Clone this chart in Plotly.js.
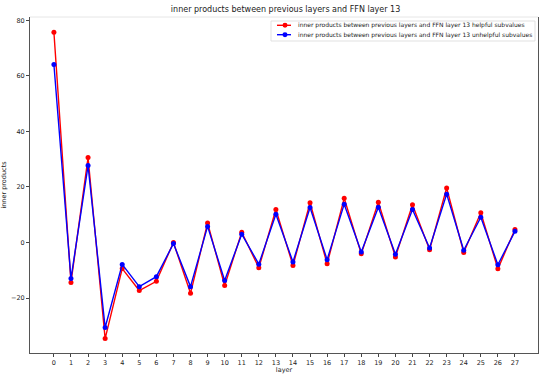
<!DOCTYPE html>
<html>
<head>
<meta charset="utf-8">
<script src="https://cdn.plot.ly/plotly-3.0.1.min.js"></script>
<style>
  html, body { margin: 0; padding: 0; background: #fff; }
  #chart { width: 546px; height: 374px; }
</style>
</head>
<body>
<div id="chart"></div>
<script>
// layer index 0..27
var layers = [0, 1, 2, 3, 4, 5, 6, 7, 8, 9, 10, 11, 12, 13, 14, 15, 16, 17, 18, 19, 20, 21, 22, 23, 24, 25, 26, 27];

var helpful = [75.7, -14.4, 30.6, -34.6, -9.4, -17.3, -14.0, 0.0, -18.3, 7.0,
               -15.5, 3.7, -9.1, 11.9, -8.3, 14.3, -7.7, 15.9, -4.1, 14.5,
               -5.2, 13.6, -2.6, 19.6, -3.6, 10.7, -9.5, 4.7];

var unhelpful = [64.1, -13.0, 27.7, -30.6, -7.9, -15.9, -12.3, -0.4, -15.9, 5.8,
                 -13.7, 3.0, -7.8, 10.2, -7.0, 12.6, -6.2, 13.8, -3.4, 12.7,
                 -4.2, 11.9, -2.0, 17.4, -2.8, 9.1, -8.0, 4.0];

var yTicks = [-20, 0, 20, 40, 60, 80];

var seriesNames = [
    'inner products between previous layers and FFN layer 13 helpful subvalues',
    'inner products between previous layers and FFN layer 13 unhelpful subvalues'
];
var seriesColors = ['#ff0000', '#0000ff'];

var traces = [
    {
        x: layers,
        y: helpful,
        mode: 'lines+markers',
        name: seriesNames[0],
        line: { color: seriesColors[0], width: 1.4 },
        marker: { color: seriesColors[0], size: 5 }
    },
    {
        x: layers,
        y: unhelpful,
        mode: 'lines+markers',
        name: seriesNames[1],
        line: { color: seriesColors[1], width: 1.4 },
        marker: { color: seriesColors[1], size: 5 }
    }
];

// compact matplotlib-like legend, drawn in paper coords
var shapes = [
    {   // faint top spine
        type: 'line', xref: 'paper', yref: 'paper',
        x0: 0, x1: 1, y0: 1, y1: 1,
        line: { color: '#e6e6e6', width: 1 }
    },
    {   // legend box
        type: 'rect', xref: 'paper', yref: 'paper',
        x0: 0.4744, x1: 0.9941, y0: 0.9286, y1: 0.9881,
        fillcolor: 'rgba(255,255,255,0.85)',
        line: { color: '#d9d9d9', width: 0.8 }
    }
];
var annotations = [];
var rowY = [0.9753, 0.9473];
seriesNames.forEach(function(name, i) {
    shapes.push({
        type: 'line', xref: 'paper', yref: 'paper',
        x0: 0.4862, x1: 0.5138, y0: rowY[i], y1: rowY[i],
        line: { color: seriesColors[i], width: 1.4 }
    });
    shapes.push({
        type: 'circle', xref: 'paper', yref: 'paper',
        x0: 0.5020 - 0.0049, x1: 0.5020 + 0.0049,
        y0: rowY[i] - 0.0074, y1: rowY[i] + 0.0074,
        fillcolor: seriesColors[i],
        line: { color: seriesColors[i], width: 0 }
    });
    annotations.push({
        xref: 'paper', yref: 'paper',
        x: 0.5236, y: rowY[i],
        xanchor: 'left', yanchor: 'middle',
        text: name,
        showarrow: false,
        font: { size: 6.0, color: '#222' }
    });
});

var layout = {
    width: 546,
    height: 374,
    margin: { l: 30, r: 8, t: 17, b: 21 },
    paper_bgcolor: '#ffffff',
    plot_bgcolor: '#ffffff',
    font: { family: 'DejaVu Sans', size: 6.5, color: '#222' },
    title: {
        text: 'inner products between previous layers and FFN layer 13',
        font: { size: 8, color: '#222' },
        x: 0.523, xanchor: 'center',
        y: 0.975, yanchor: 'middle'
    },
    showlegend: false,
    xaxis: {
        title: { text: 'layer', font: { size: 6.5 }, standoff: 2 },
        range: [-1.4, 28.35],
        tickmode: 'array',
        tickvals: layers,
        ticktext: layers.map(String),
        ticks: 'outside',
        ticklen: 3,
        tickcolor: '#444',
        showgrid: false,
        zeroline: false,
        showline: true,
        linecolor: '#555',
        linewidth: 1
    },
    yaxis: {
        title: { text: 'inner products', font: { size: 6.5 }, standoff: 5 },
        range: [-39.8, 81.2],
        tickmode: 'array',
        tickvals: yTicks,
        ticktext: yTicks.map(function(v) { return v < 0 ? '\u2212' + Math.abs(v) : String(v); }),
        ticks: 'outside',
        ticklen: 3,
        tickcolor: '#444',
        showgrid: false,
        zeroline: false,
        showline: true,
        mirror: true,
        linecolor: '#555',
        linewidth: 1
    },
    shapes: shapes,
    annotations: annotations
};

Plotly.newPlot('chart', traces, layout, { displayModeBar: false, staticPlot: true });
</script>
</body>
</html>
